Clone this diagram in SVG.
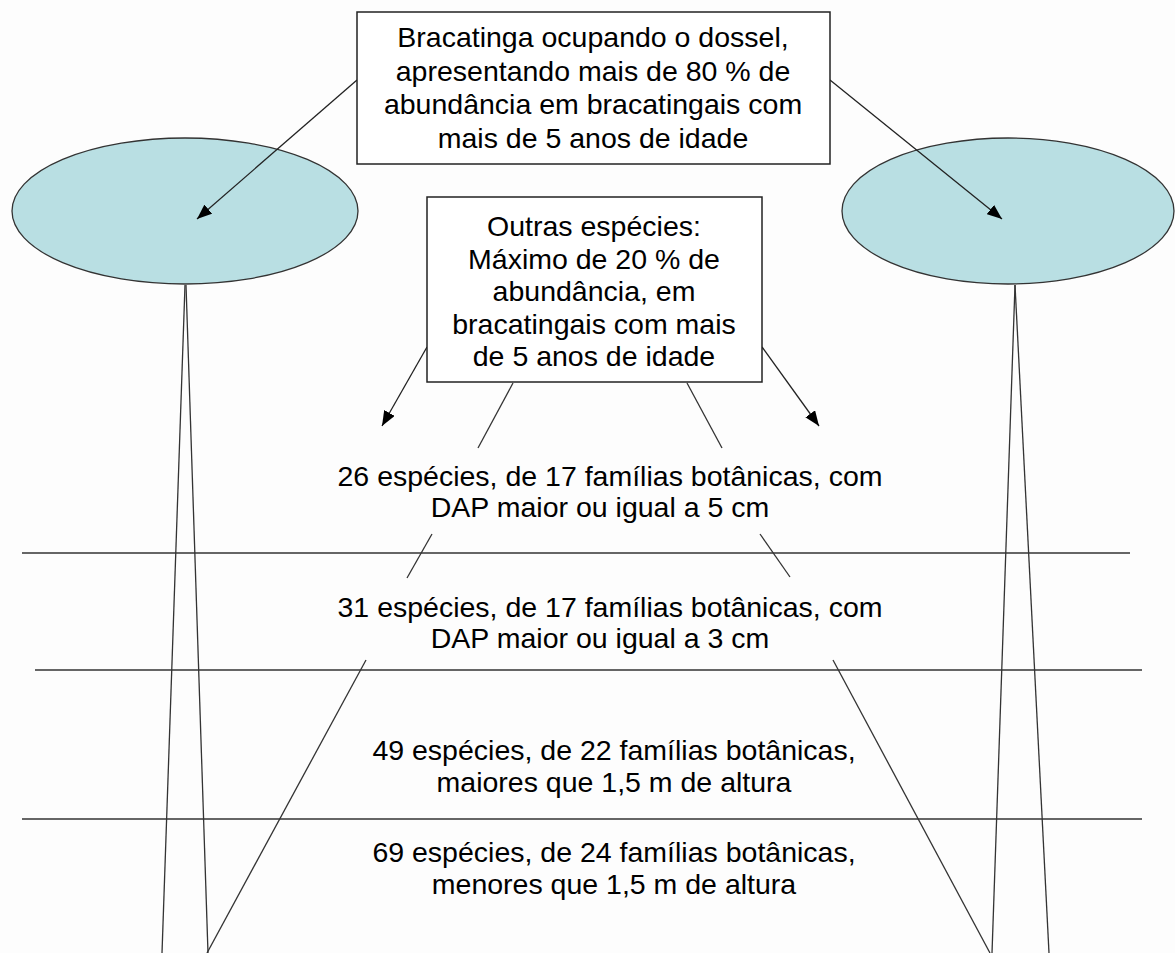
<svg xmlns="http://www.w3.org/2000/svg" width="1175" height="953" viewBox="0 0 1175 953">
<defs>
<marker id="ah" markerUnits="userSpaceOnUse" markerWidth="16" markerHeight="12" refX="15" refY="6" orient="auto">
<path d="M0,0 L15,6 L0,12 z" fill="#000"/>
</marker>
<style>
.t{font-family:"Liberation Sans",Arial,sans-serif;font-size:28.5px;fill:#000;text-anchor:middle}
.box{fill:#fff;stroke:#222;stroke-width:1.5}
.ell{fill:#b9dfe3;stroke:#333;stroke-width:1.3}
.ln{stroke:#333;stroke-width:1.3;fill:none}
.arr{stroke:#222;stroke-width:1.3;fill:none;marker-end:url(#ah)}
</style>
</defs>
<rect width="1175" height="953" fill="#fdfdfd"/>
<g id="ellipse-left"><ellipse class="ell" cx="185" cy="211" rx="173" ry="73"/></g>
<g id="ellipse-right"><ellipse class="ell" cx="1008" cy="211" rx="166" ry="73"/></g>
<g id="connectors">
<line class="ln" x1="22" y1="553" x2="1130" y2="553"/>
<line class="ln" x1="35" y1="670" x2="1142" y2="670"/>
<line class="ln" x1="22" y1="819" x2="1142" y2="819"/>
<line class="ln" x1="185" y1="285" x2="162" y2="953"/>
<line class="ln" x1="186" y1="285" x2="208" y2="953"/>
<line class="ln" x1="1015" y1="285" x2="992" y2="953"/>
<line class="ln" x1="1015" y1="285" x2="1049" y2="953"/>
<line class="arr" x1="357" y1="80" x2="197" y2="219"/>
<line class="arr" x1="830" y1="80" x2="1002" y2="219"/>
<line class="arr" x1="427" y1="347" x2="382" y2="426"/>
<line class="arr" x1="762" y1="347" x2="819" y2="426"/>
<line class="ln" x1="513" y1="383" x2="478" y2="448"/>
<line class="ln" x1="687" y1="383" x2="722" y2="448"/>
<line class="ln" x1="432" y1="534" x2="407" y2="578"/>
<line class="ln" x1="760" y1="534" x2="790" y2="577"/>
<line class="ln" x1="366" y1="660" x2="207" y2="953"/>
<line class="ln" x1="833" y1="660" x2="990" y2="953"/>
</g>
<g id="box-top">
<rect class="box" x="357" y="12" width="473" height="152"/>
<text class="t" x="593" y="47">Bracatinga ocupando o dossel,</text>
<text class="t" x="593" y="81">apresentando mais de 80 % de</text>
<text class="t" x="593" y="114">abundância em bracatingais com</text>
<text class="t" x="593" y="148">mais de 5 anos de idade</text>
</g>
<g id="box-outras">
<rect class="box" x="427" y="197" width="335" height="185"/>
<text class="t" x="594" y="236">Outras espécies:</text>
<text class="t" x="594" y="269">Máximo de 20 % de</text>
<text class="t" x="594" y="301">abundância, em</text>
<text class="t" x="594" y="334">bracatingais com mais</text>
<text class="t" x="594" y="366">de 5 anos de idade</text>
</g>
<g id="level-1">
<text class="t" x="610" y="486">26 espécies, de 17 famílias botânicas, com</text>
<text class="t" x="600" y="517">DAP maior ou igual a 5 cm</text>
</g>
<g id="level-2">
<text class="t" x="610" y="617">31 espécies, de 17 famílias botânicas, com</text>
<text class="t" x="600" y="648">DAP maior ou igual a 3 cm</text>
</g>
<g id="level-3">
<text class="t" x="614" y="760">49 espécies, de 22 famílias botânicas,</text>
<text class="t" x="614" y="792">maiores que 1,5 m de altura</text>
</g>
<g id="level-4">
<text class="t" x="614" y="862">69 espécies, de 24 famílias botânicas,</text>
<text class="t" x="614" y="894">menores que 1,5 m de altura</text>
</g>
</svg>
